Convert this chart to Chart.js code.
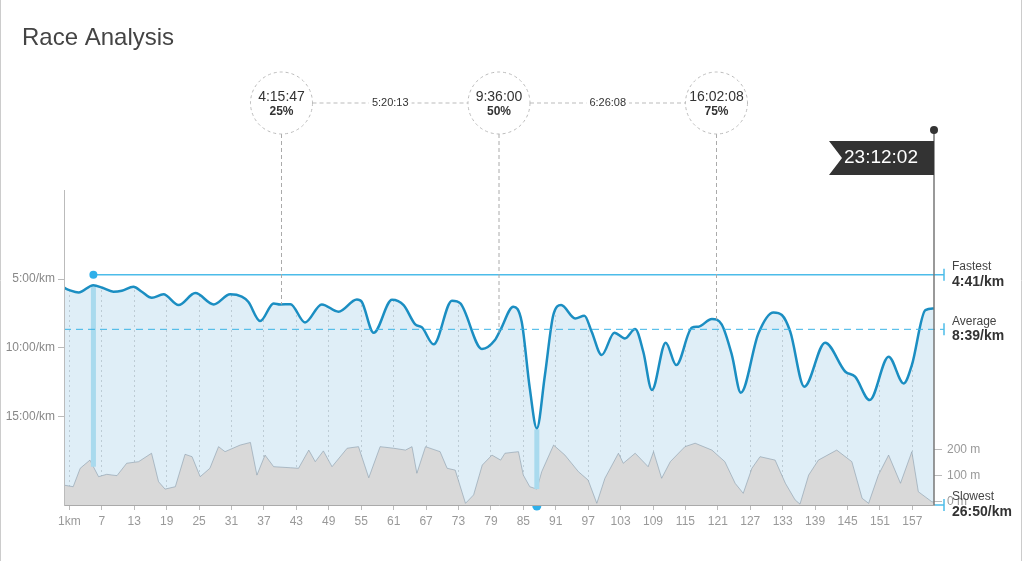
<!DOCTYPE html>
<html lang="en">
<head>
<meta charset="UTF-8">
<title>Race Analysis</title>
<script src="https://cdn.jsdelivr.net/npm/chart.js"></script>
<style>
  body { margin: 0; background: #fff; }
  #wrap { position: relative; width: 1024px; height: 561px; }
</style>
</head>
<body>
<div id="wrap"><canvas id="raceChart" width="1024" height="561"></canvas></div>
<script>
// smoothed pace curve, km -> minutes per km
const paceKm = [0, 1, 2.7, 5.44, 7.1, 9.15, 10.7, 12.85, 14.4, 16.25, 18.4, 21.2, 24.3, 27.7, 30.75, 32.9, 34.1, 36.3, 38.8, 40.0,
  41.9, 44.6, 47.7, 50.8, 54.2, 55.1, 57.3, 60.7, 62.85, 65.0, 66.25, 68.4, 71.8, 73.35, 77.35, 79.75, 80.75, 83.15, 84.7, 86.2,
  87.5, 89.0, 90.55, 92.0, 94.6, 96.3, 97.65, 99.5, 101.85, 103.8, 105.7, 107.2, 108.8, 111.35, 113.3, 116.2, 117.4, 119.9, 121.7, 123.6,
  125.25, 128.5, 131.3, 132.85, 134.4, 137.0, 140.85, 144.6, 146.4, 149.1, 152.6, 155.4, 156.9, 159.4, 161.0];
const paceMin = [5.63, 5.80, 5.97, 5.44, 5.63, 5.92, 5.85, 5.56, 5.92, 6.36, 6.11, 6.89, 6.02, 6.84, 6.11, 6.28, 6.65, 8.05, 6.77, 6.84,
  6.82, 8.15, 6.84, 7.37, 6.48, 6.65, 8.90, 6.50, 6.89, 8.29, 8.51, 9.74, 6.57, 6.77, 10.08, 9.43, 8.70, 7.01, 8.10, 12.94,
  15.84, 11.97, 7.61, 6.89, 7.86, 7.66, 8.82, 10.52, 8.90, 9.31, 8.63, 10.28, 13.06, 9.62, 11.25, 8.53, 8.46, 7.90, 8.29, 10.52,
  13.25, 8.95, 7.42, 7.61, 8.82, 12.82, 9.62, 11.73, 12.09, 13.79, 10.64, 12.58, 11.25, 7.25, 7.13];

// elevation profile, km -> metres
const elevKm = [0, 1.7, 3, 4.8, 6.4, 7.9, 9.8, 11.6, 13.8, 16.2, 17.5, 18.7, 20.6, 22.4, 23.7, 25.2, 27, 28.6, 29.8, 32.6,
  34.5, 35.7, 37.2, 38.8, 41.9, 43.4, 45.3, 46.5, 48, 49.6, 52.4, 54.5, 56.4, 58.5, 61, 63.2, 64.4, 65.3, 66.9, 69.6,
  70.9, 72.4, 74.3, 75.8, 77.4, 79.2, 80.8, 81.6, 84.1, 85, 86.2, 87.5, 88.4, 90.6, 92.7, 95.2, 97, 98.6, 100.1, 102.6,
  103.5, 105.7, 108.1, 109.1, 110.6, 112.2, 114.9, 116.8, 119.9, 122.3, 124.2, 125.7, 127.3, 128.8, 131.6, 133.5, 135.3, 136.2, 137.8, 139.6,
  143, 145.8, 147.7, 148.9, 150.7, 152.6, 154.8, 156.9, 158.1, 160.6, 161];
const elevM = [64, 58, 128, 159, 96, 105, 100, 147, 153, 185, 77, 49, 58, 181, 172, 96, 128, 210, 191, 216,
  226, 102, 178, 134, 130, 128, 197, 153, 194, 134, 204, 210, 92, 210, 204, 197, 210, 109, 210, 191,
  128, 121, -5, 27, 140, 178, 159, 185, 191, 102, 58, 49, 115, 216, 178, 115, 83, -5, 90, 185,
  147, 185, 134, 191, 90, 153, 210, 223, 197, 153, 71, 33, 128, 172, 159, 71, 8, -8, 102, 159,
  197, 153, 14, -5, 102, 178, 71, 191, 39, 1, 0];

const kmTicks = [1, 7, 13, 19, 25, 31, 37, 43, 49, 55, 61, 67, 73, 79, 85, 91, 97, 103, 109, 115, 121, 127, 133, 139, 145, 151, 157];
const paceTicks = [5, 10, 15];
const elevTicks = [0, 100, 200];

const totalKm = 161;
const quarterKm = [40.25, 80.5, 120.75];
const quarterTime = ['4:15:47', '9:36:00', '16:02:08'];
const quarterPct = ['25%', '50%', '75%'];
const splitTime = ['5:20:13', '6:26:08'];
const finishTime = '23:12:02';

const fastestKm = 5.44, fastestPace = 4 + 41 / 60;
const averagePace = 8 + 39 / 60;
const slowestKm = 87.5, slowestPace = 26 + 50 / 60;

const PACE_TOP = -1.47, PACE_BOTTOM = 21.41;

function fmtPace(p) {
  const s = Math.round(p * 60);
  return Math.floor(s / 60) + ':' + String(s % 60).padStart(2, '0') + '/km';
}

const pacePoints = paceKm.map((k, i) => ({ x: k, y: paceMin[i] }));
const elevPoints = elevKm.map((k, i) => ({ x: k, y: elevM[i] }));

Chart.defaults.font.family = "'Helvetica Neue', Helvetica, 'Liberation Sans', Arial, sans-serif";

function curveY(chart, idx, km) {
  const px = chart.scales.x.getPixelForValue(km);
  let p = chart.getDatasetMeta(idx).dataset.interpolate({ x: px }, 'x');
  if (Array.isArray(p)) p = p[0];
  return p ? p.y : null;
}

function dashLine(ctx, x1, y1, x2, y2, color, dash, w) {
  ctx.save();
  ctx.strokeStyle = color;
  ctx.lineWidth = w || 1;
  ctx.setLineDash(dash || []);
  ctx.beginPath();
  ctx.moveTo(x1, y1);
  ctx.lineTo(x2, y2);
  ctx.stroke();
  ctx.restore();
}

const raceDecor = {
  id: 'raceDecor',
  beforeDatasetDraw(chart, args) {
    if (args.index !== 3) return;
    const { ctx, scales: { x } } = chart;
    ctx.save();
    ctx.fillStyle = '#a9daee';
    [fastestKm, slowestKm].forEach(km => {
      const px = x.getPixelForValue(km);
      const top = curveY(chart, 3, km) + 1;
      const bot = curveY(chart, 2, km);
      ctx.fillRect(px - 2.5, top, 5, bot - top);
    });
    ctx.restore();
  },
  afterDatasetsDraw(chart) {
    const { ctx, chartArea: a, scales: { x, y } } = chart;
    const tickX = a.right + 10;
    const cyan = '#4cbce9';

    // fastest
    const fx = x.getPixelForValue(fastestKm);
    const fy = y.getPixelForValue(fastestPace);
    dashLine(ctx, fx, fy, tickX, fy, cyan, [], 1.5);
    dashLine(ctx, tickX, fy - 6, tickX, fy + 6, cyan, [], 1.5);
    ctx.save();
    ctx.fillStyle = '#2fb0ea';
    ctx.beginPath();
    ctx.arc(fx, fy, 4, 0, Math.PI * 2);
    ctx.fill();
    ctx.restore();

    // average
    const ay = y.getPixelForValue(averagePace);
    dashLine(ctx, a.left, ay, tickX, ay, '#3ab3e6', [7, 5], 1);
    dashLine(ctx, tickX, ay - 6, tickX, ay + 6, cyan, [], 1.5);

    // slowest
    const sy = Math.min(y.getPixelForValue(slowestPace), a.bottom);
    dashLine(ctx, a.right, sy, tickX, sy, cyan, [], 1.5);
    dashLine(ctx, tickX, sy - 6, tickX, sy + 6, cyan, [], 1.5);
    ctx.save();
    ctx.fillStyle = '#2fb0ea';
    ctx.beginPath();
    ctx.arc(x.getPixelForValue(slowestKm), a.bottom + 1, 4.5, 0, Math.PI);
    ctx.fill();
    ctx.restore();

    // right-hand labels
    ctx.save();
    ctx.textBaseline = 'middle';
    ctx.textAlign = 'left';
    [['Fastest', fmtPace(fastestPace), fy], ['Average', fmtPace(averagePace), ay], ['Slowest', fmtPace(slowestPace), sy]]
      .forEach(([name, val, ly]) => {
        ctx.fillStyle = '#444';
        ctx.font = "12px " + Chart.defaults.font.family;
        ctx.fillText(name, 952, ly - 8);
        ctx.fillStyle = '#333';
        ctx.font = "bold 14px " + Chart.defaults.font.family;
        ctx.fillText(val, 952, ly + 7);
      });
    ctx.restore();

    // quarter markers
    const cy = 103, r = 31;
    const qx = quarterKm.map(k => x.getPixelForValue(k));
    qx.forEach((px, i) => {
      dashLine(ctx, px, cy + r, px, curveY(chart, 3, quarterKm[i]), '#aaa', [4, 3], 1);
      ctx.save();
      ctx.strokeStyle = '#bbb';
      ctx.setLineDash([3, 3]);
      ctx.beginPath();
      ctx.arc(px, cy, r, 0, Math.PI * 2);
      ctx.stroke();
      ctx.restore();
      ctx.save();
      ctx.fillStyle = '#333';
      ctx.textAlign = 'center';
      ctx.textBaseline = 'middle';
      ctx.font = "14px " + Chart.defaults.font.family;
      ctx.fillText(quarterTime[i], px, cy - 5.5);
      ctx.font = "bold 12px " + Chart.defaults.font.family;
      ctx.fillText(quarterPct[i], px, cy + 8.5);
      ctx.restore();
    });
    for (let i = 0; i < qx.length - 1; i++) {
      dashLine(ctx, qx[i] + r, cy, qx[i + 1] - r, cy, '#bbb', [4, 3], 1);
      const mx = (qx[i] + qx[i + 1]) / 2;
      ctx.save();
      ctx.font = "11px " + Chart.defaults.font.family;
      const w = ctx.measureText(splitTime[i]).width;
      ctx.fillStyle = '#fff';
      ctx.fillRect(mx - w / 2 - 3, cy - 7, w + 6, 14);
      ctx.fillStyle = '#333';
      ctx.textAlign = 'center';
      ctx.textBaseline = 'middle';
      ctx.fillText(splitTime[i], mx, cy);
      ctx.restore();
    }

    // finish flag
    const pole = a.right;
    dashLine(ctx, pole, 130, pole, a.bottom, '#777', [], 1.5);
    ctx.save();
    ctx.fillStyle = '#333';
    ctx.beginPath();
    ctx.arc(pole, 130, 4, 0, Math.PI * 2);
    ctx.fill();
    ctx.beginPath();
    ctx.moveTo(pole, 141);
    ctx.lineTo(829, 141);
    ctx.lineTo(842, 158);
    ctx.lineTo(829, 175);
    ctx.lineTo(pole, 175);
    ctx.closePath();
    ctx.fill();
    ctx.fillStyle = '#fff';
    ctx.textAlign = 'center';
    ctx.textBaseline = 'middle';
    ctx.font = "19px " + Chart.defaults.font.family;
    ctx.fillText(finishTime, 881, 158);
    ctx.restore();
  },
  afterDraw(chart) {
    const { ctx } = chart;
    ctx.save();
    ctx.fillStyle = '#444';
    ctx.textBaseline = 'middle';
    ctx.font = "300 24px " + Chart.defaults.font.family;
    ctx.fillText('Race Analysis', 22, 38);
    ctx.restore();
    dashLine(ctx, 0.5, 0, 0.5, 561, '#ccc', [], 1);
    dashLine(ctx, 1021.5, 0, 1021.5, 561, '#ccc', [], 1);
  }
};

new Chart(document.getElementById('raceChart'), {
  type: 'line',
  data: {
    datasets: [
      { // white above the curve hides the grid there
        data: pacePoints, yAxisID: 'y', fill: { value: PACE_TOP }, backgroundColor: '#fff',
        borderWidth: 0, pointRadius: 0, cubicInterpolationMode: 'monotone', order: 5
      },
      {
        data: pacePoints, yAxisID: 'y', fill: { value: PACE_BOTTOM }, backgroundColor: 'rgba(150,200,230,0.3)',
        borderWidth: 0, pointRadius: 0, cubicInterpolationMode: 'monotone', order: 4
      },
      {
        data: elevPoints, yAxisID: 'y2', fill: 'start', backgroundColor: '#d9d9d9',
        borderColor: 'rgba(130,150,165,0.55)', borderWidth: 1, pointRadius: 0, tension: 0, order: 3
      },
      {
        data: pacePoints, yAxisID: 'y', fill: false, borderColor: '#1b8ec2', borderWidth: 2.5,
        pointRadius: 0, cubicInterpolationMode: 'monotone', order: 1
      }
    ]
  },
  options: {
    responsive: false,
    animation: false,
    events: [],
    layout: { padding: { top: 190 } },
    plugins: { legend: { display: false }, tooltip: { enabled: false } },
    scales: {
      x: {
        type: 'linear', min: 0, max: totalKm,
        afterBuildTicks: s => { s.ticks = kmTicks.map(v => ({ value: v })); },
        afterFit: s => { s.height = 56; },
        ticks: { autoSkip: false, maxRotation: 0, color: '#999', font: { size: 12 }, padding: 4,
          callback: v => v === 1 ? '1km' : String(v) },
        grid: { color: '#cfcfcf', lineWidth: 1, tickLength: 5, tickColor: '#bbb', tickBorderDash: [] },
        border: { color: '#aaa', width: 1, dash: [2, 3], z: 1 }
      },
      y: {
        position: 'left', reverse: true, min: PACE_TOP, max: PACE_BOTTOM,
        afterBuildTicks: s => { s.ticks = paceTicks.map(v => ({ value: v })); },
        afterFit: s => { s.width = 64; },
        ticks: { color: '#888', font: { size: 12 }, padding: 3, callback: v => fmtPace(v) },
        grid: { drawOnChartArea: false, tickLength: 6, tickColor: '#bbb' },
        border: { color: '#bbb', width: 1, z: 1 }
      },
      y2: {
        position: 'right', min: -11.4, max: 1184,
        afterBuildTicks: s => { s.ticks = elevTicks.map(v => ({ value: v })); },
        afterFit: s => { s.width = 90; },
        ticks: { color: '#999', font: { size: 12 }, padding: 5, callback: v => v + ' m' },
        grid: { drawOnChartArea: false, tickLength: 8, tickColor: '#bbb' },
        border: { display: false }
      }
    }
  },
  plugins: [raceDecor]
});
</script>
</body>
</html>
